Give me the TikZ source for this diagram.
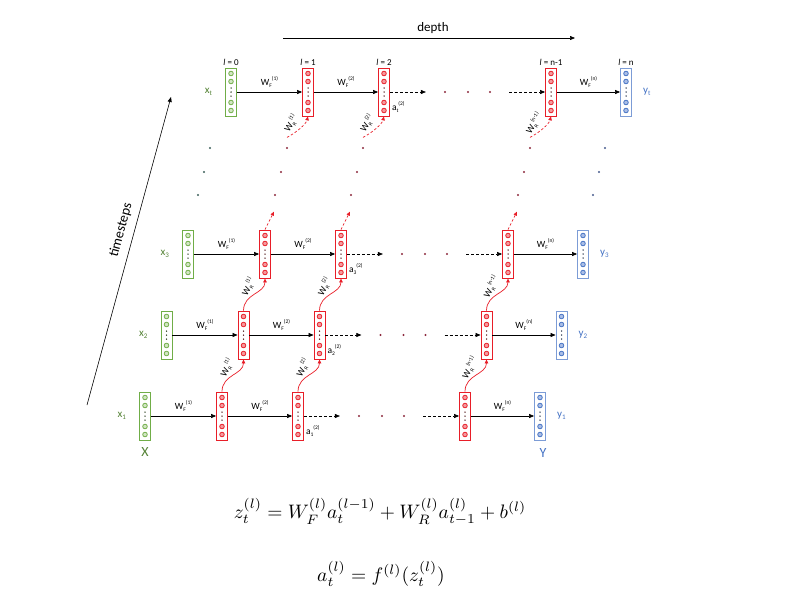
\documentclass[tikz,border=0pt]{standalone}
\usepackage{fontspec}
\usepackage{amsmath}
\setsansfont{Carlito}
\usetikzlibrary{arrows.meta}
\definecolor{gC}{RGB}{112,173,71}
\definecolor{gT}{RGB}{84,130,53}
\definecolor{gF}{RGB}{210,230,195}
\definecolor{rC}{RGB}{232,30,40}
\definecolor{bC}{RGB}{68,114,196}
\definecolor{bF}{RGB}{170,190,230}
\definecolor{dotR}{RGB}{140,40,60}
\definecolor{dotG}{RGB}{60,95,90}
\definecolor{dotB}{RGB}{70,90,140}
\newcommand\mylbl[3]{#1\raisebox{-2pt}{\fontsize{5.5}{6}\selectfont #2}\raisebox{4.5pt}{\fontsize{5.5}{6}\selectfont #3}}
\newcommand\mysub[2]{#1\raisebox{-2.5pt}{\fontsize{7}{8}\selectfont #2}}
\newcommand\cells[3]{%
  \foreach \d in {-18.5,-10.5,10.5,18.5}{\draw[#2,fill=#3,line width=0.8] ([yshift=\d pt]#1.center) circle (2.3);}%
  \foreach \d in {-4,0,4}{\fill[black!70!#2] ([yshift=\d pt]#1.center) circle (0.75);}}
\begin{document}
\begin{tikzpicture}[x=1pt,y=-1pt,
  font=\sffamily,
  gbox/.style={draw=gC,line width=0.8pt,fill=white,minimum width=11pt,minimum height=48pt,inner sep=0pt},
  rbox/.style={gbox,draw=rC},
  bbox/.style={gbox,draw=bC!70},
  fw/.style={-{Triangle[length=5pt,width=4pt]},line width=0.6pt,black},
  fwd/.style={fw,dash pattern=on 3pt off 2pt},
  rec/.style={-{Triangle[length=4pt,width=3.5pt]},line width=0.7pt,rC},
  recd/.style={rec,dash pattern=on 2.5pt off 2pt},
  wl/.style={midway,above=1pt,font=\sffamily\fontsize{9.5}{10}\selectfont},
  wr/.style={font=\sffamily\fontsize{9.5}{10}\selectfont,inner sep=0pt},
  tl/.style={font=\sffamily\fontsize{9}{10}\selectfont,inner sep=1pt},
  ]
\useasboundingbox (0,0) rectangle (800,600);

\foreach \k/\s in {0/1,1/2,2/3,4/t}{
\begin{scope}[shift={(21.5*\k,-81*\k)}]
  \node[gbox] (g\s) at (145,416) {};
  \node[rbox] (ra\s) at (222,416) {};
  \node[rbox] (rb\s) at (298,416) {};
  \node[rbox] (rn\s) at (465,416) {};
  \node[bbox] (b\s) at (540,416) {};
  \cells{g\s}{gC}{gF}
  \cells{ra\s}{rC}{rC!45}
  \cells{rb\s}{rC}{rC!45}
  \cells{rn\s}{rC}{rC!45}
  \cells{b\s}{bC}{bF}
  \node[anchor=east,text=gT,font=\sffamily\fontsize{11}{12}\selectfont,inner sep=0pt] (xl\s) at ([xshift=-13pt]g\s.west) {\mysub{x}{\s}};
  \node[anchor=west,text=bC,font=\sffamily\fontsize{11}{12}\selectfont,inner sep=0pt] (yl\s) at ([xshift=11pt]b\s.east) {\mysub{y}{\s}};
  \draw[fw] (g\s) -- (ra\s) node[wl] {\mylbl{W}{F}{(1)}};
  \draw[fw] (ra\s) -- (rb\s) node[wl] {\mylbl{W}{F}{(2)}};
  \draw[fw] (rn\s) -- (b\s) node[wl] {\mylbl{W}{F}{(n)}};
  \coordinate (da\s) at ([xshift=36pt]rb\s.east);
  \coordinate (db\s) at ([xshift=-36pt]rn\s.west);
  \draw[fwd] (rb\s) -- (da\s);
  \draw[fwd] (db\s) -- (rn\s);
  \foreach \xx in {359,382,404}{\fill[dotR] (\xx,416) circle (1.1);}
  \node[anchor=west,font=\sffamily\fontsize{9.5}{10}\selectfont,inner sep=0pt] (al\s) at ([xshift=2pt,yshift=-15pt]rb\s.east) {\mylbl{a}{\s}{(2)}};
\end{scope}
}

% layer labels
\node[tl,anchor=south] (l0) at ([yshift=1pt]gt.north) {\textit{l} = 0};
\node[tl,anchor=south] (l1) at ([yshift=1pt]rat.north) {\textit{l} = 1};
\node[tl,anchor=south] (l2) at ([yshift=1pt]rbt.north) {\textit{l} = 2};
\node[tl,anchor=south] (l3) at ([yshift=1pt]rnt.north) {\textit{l} = n-1};
\node[tl,anchor=south] (l4) at ([yshift=1pt]bt.north) {\textit{l} = n};

% X and Y
\node[text=gT,font=\sffamily\fontsize{14}{16}\selectfont] (XX) at (145,452) {X};
\node[text=bC,font=\sffamily\fontsize{14}{16}\selectfont] (YY) at (543,453) {Y};

% recurrent connections
\foreach \c/\ss in {ra/(1),rb/(2),rn/(n-1)}{
  \foreach \a/\b in {1/2,2/3}{
    \draw[rec] (\c\a.north) .. controls +(0,-17) and +(0,15) .. (\c\b.south) coordinate[pos=0.5] (m\c\a);
    \node[wr,rotate=62] at ([xshift=-6pt,yshift=7pt]m\c\a) {\mylbl{W}{R}{\ss}};
  }
  \coordinate (u\c) at ([xshift=9pt,yshift=18pt]\c3.north);
  \draw[recd] (\c3.north) -- (u\c);
  \coordinate (s\c) at ([xshift=-21pt,yshift=-21pt]\c t.south);
  \draw[recd] (s\c) .. controls +(8,-4) and +(-2,8) .. (\c t.south);
  \node[wr,rotate=58] at ([xshift=-17pt,yshift=-7pt]\c t.south) {\mylbl{W}{R}{\ss}};
}

% vertical dots between row 3 and row t
\foreach \c/\col in {g/dotG,ra/dotR,rb/dotR,rn/dotR,b/dotB}{
  \foreach \dx/\dy in {22/106,16/82,10/59}{
    \fill[\col] ([xshift=\dx pt,yshift=\dy pt]\c3.center) circle (1.1);
  }
}

% depth arrow
\coordinate (dA) at (283,38);
\coordinate (dB) at (575,38);
\draw[fw] (dA) -- (dB);
\node[font=\sffamily\fontsize{13}{15}\selectfont] (depth) at (433,28) {depth};

% timesteps arrow
\coordinate (tA) at (87,405);
\coordinate (tB) at (171,97);
\draw[fw] (tA) -- (tB);
\node[font=\sffamily\fontsize{14}{16}\selectfont,rotate=74.7] (ts) at (121,230) {timesteps};

% equations
\node[scale=1.95] (eq1) at (380,512) {$z_t^{(l)} = W_F^{(l)} a_t^{(l-1)} + W_R^{(l)} a_{t-1}^{(l)} + b^{(l)}$};
\node[scale=1.95] (eq2) at (381,574) {$a_t^{(l)} = f^{(l)}(z_t^{(l)})$};
\end{tikzpicture}
\end{document}
